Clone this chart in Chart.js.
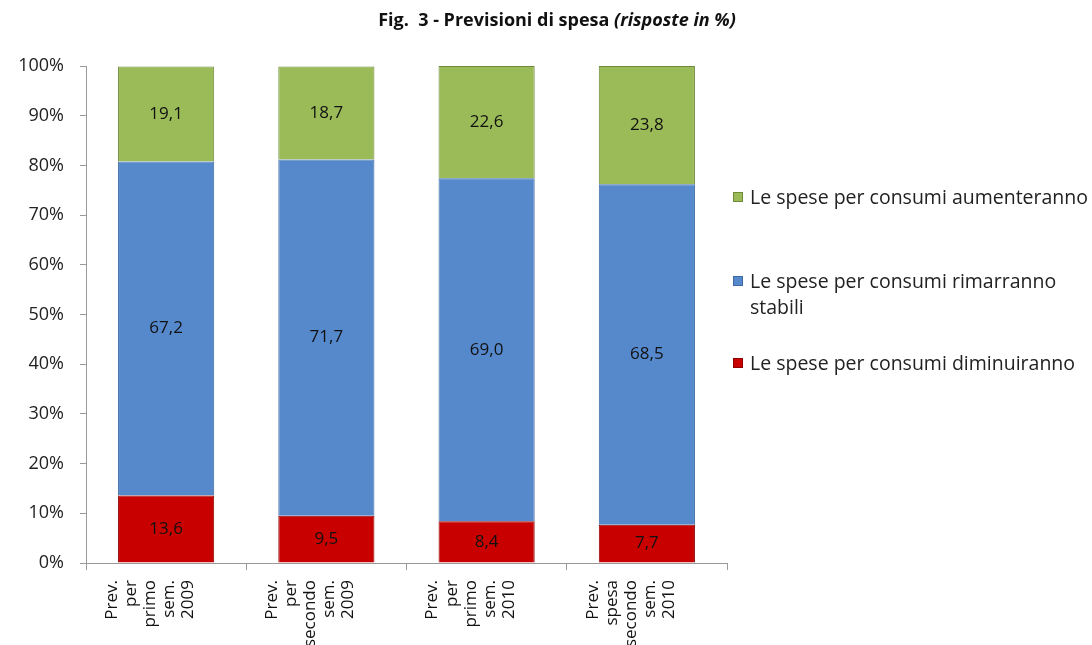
<!DOCTYPE html>
<html>
<head>
<meta charset="utf-8">
<script src="https://cdn.jsdelivr.net/npm/chart.js@4"></script>
<style>
  html, body { margin:0; padding:0; background:#fff; overflow:hidden; }
  #wrap { position:relative; width:1092px; height:645px; }
  #title { position:absolute; left:0; width:1114px; top:7px; text-align:center;
    font-family:'Open Sans', sans-serif; font-weight:bold; font-size:18px; color:#111; }
  #title i { font-weight:bold; }
  #legend { position:absolute; left:731px; top:0; font-family:'Open Sans', sans-serif;
    font-size:19.5px; color:#222; }
  .li { position:absolute; left:0; width:362px; line-height:26px; white-space:nowrap; }
  .sw { position:absolute; left:2px; top:8px; width:10px; height:10px; box-sizing:border-box; }
  .tx { position:absolute; left:19px; top:0; }
  canvas { position:absolute; left:0; top:0; }
</style>
</head>
<body>
<div id="wrap">
  <canvas id="c" width="1092" height="645"></canvas>
  <div id="title">Fig.&nbsp; 3 - Previsioni di spesa <i>(risposte in %)</i></div>
  <div id="legend"></div>
</div>
<script>
// Fig. 3 - Previsioni di spesa
const categories = [
  ['Prev.', 'per', 'primo', 'sem.', '2009'],
  ['Prev.', 'per', 'secondo', 'sem.', '2009'],
  ['Prev.', 'per', 'primo', 'sem.', '2010'],
  ['Prev.', 'spesa', 'secondo', 'sem.', '2010']
];
const diminuiranno = [13.6, 9.5, 8.4, 7.7];
const stabili = [67.2, 71.7, 69.0, 68.5];
const aumenteranno = [19.1, 18.7, 22.6, 23.8];
const seriesNames = [
  'Le spese per consumi diminuiranno',
  'Le spese per consumi rimarranno stabili',
  'Le spese per consumi aumenteranno'
];
const yTicks = [0, 10, 20, 30, 40, 50, 60, 70, 80, 90, 100];

const colors = ['#c80000', '#5589cc', '#9bbb59'];
const borders = ['#8e0000', '#3d6aa3', '#6e8a3a'];
const FONT = '"Open Sans", sans-serif';

const valueLabels = {
  id:'valueLabels',
  afterDatasetsDraw(chart){
    const ctx = chart.ctx;
    ctx.save();
    ctx.font = '17px ' + FONT;
    ctx.fillStyle = '#111';
    ctx.textAlign = 'center';
    ctx.textBaseline = 'middle';
    chart.data.datasets.forEach((ds, i)=>{
      chart.getDatasetMeta(i).data.forEach((bar, j)=>{
        const mid = (bar.y + bar.base) / 2;
        ctx.fillText(ds.data[j].toFixed(1).replace('.', ','), bar.x, mid);
      });
    });
    ctx.restore();
  }
};

const ctx = document.getElementById('c').getContext('2d');
const chart = new Chart(ctx, {
  type:'bar',
  data:{
    labels:categories,
    datasets:[
      {label:seriesNames[0], data:diminuiranno, backgroundColor:colors[0], borderColor:borders[0], borderWidth:1},
      {label:seriesNames[1], data:stabili, backgroundColor:colors[1], borderColor:borders[1], borderWidth:1},
      {label:seriesNames[2], data:aumenteranno, backgroundColor:colors[2], borderColor:borders[2], borderWidth:1}
    ]
  },
  options:{
    responsive:false,
    animation:false,
    layout:{ padding:{ top:66, right:365, bottom:0, left:0 } },
    datasets:{ bar:{ categoryPercentage:1, barPercentage:0.6 } },
    plugins:{ legend:{ display:false }, tooltip:{ enabled:false } },
    scales:{
      x:{
        stacked:true,
        grid:{ display:true, drawOnChartArea:false, drawTicks:true, tickLength:7, color:'#9a9a9a', offset:true },
        border:{ color:'#9a9a9a' },
        ticks:{ maxRotation:90, minRotation:90, autoSkip:false, color:'#111',
          font:{ family:FONT, size:17, lineHeight:1.12 }, padding:10, labelOffset:-54 },
        afterFit:(s)=>{ s.height = 82; }
      },
      y:{
        stacked:true,
        min:0, max:100,
        afterBuildTicks:(s)=>{ s.ticks = yTicks.map(v=>({value:v})); },
        grid:{ display:true, drawOnChartArea:false, drawTicks:true, tickLength:6, color:'#9a9a9a' },
        border:{ color:'#9a9a9a' },
        ticks:{ color:'#222', font:{ family:FONT, size:18 }, padding:16, callback:(v)=>v + '%' },
        afterFit:(s)=>{ s.width = 86; }
      }
    }
  },
  plugins:[valueLabels]
});

// legend (top item first, like the original)
const legendPos = [184, 268, 350];
const lg = document.getElementById('legend');
[2, 1, 0].forEach((i, k)=>{
  const d = document.createElement('div');
  d.className = 'li';
  d.style.top = legendPos[k] + 'px';
  let txt = seriesNames[i];
  if (i === 1) txt = 'Le spese per consumi rimarranno<br>stabili';
  d.innerHTML = '<span class="sw" style="background:' + colors[i] + ';border:1px solid ' + borders[i] + '"></span><span class="tx">' + txt + '</span>';
  lg.appendChild(d);
});
</script>
</body>
</html>
